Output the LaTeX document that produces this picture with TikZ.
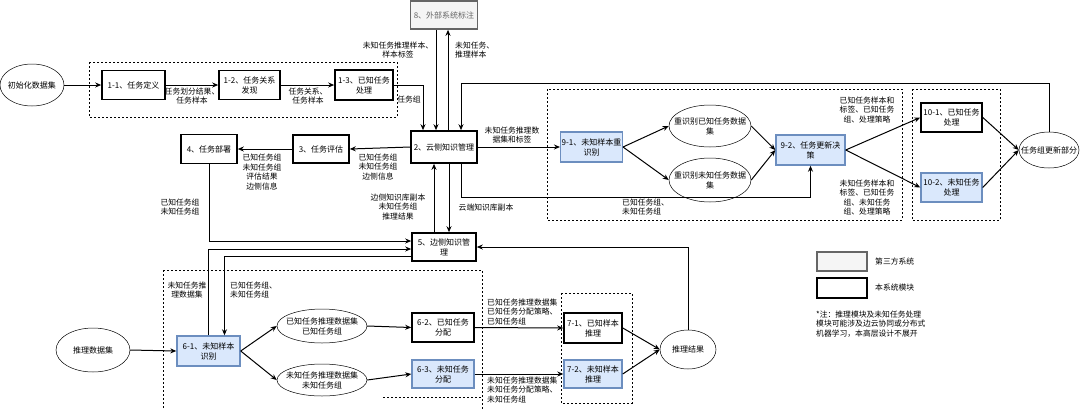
\documentclass[tikz,border=0pt]{standalone}
\usepackage{fontspec}
\setmainfont{Noto Sans CJK SC}
\usetikzlibrary{shapes.geometric,arrows.meta}
\definecolor{unkfill}{HTML}{DAE8FC}
\definecolor{unkline}{HTML}{6C8EBF}
\definecolor{extfill}{HTML}{F5F5F5}
\definecolor{extline}{HTML}{666666}
\tikzset{
  sysbox/.style={draw=black, line width=1.6pt, fill=white, align=center, inner sep=1pt, font=\fontsize{8}{10}\selectfont},
  unkbox/.style={sysbox, draw=unkline, fill=unkfill, line width=1.4pt},
  extbox/.style={sysbox, draw=extline, fill=extfill, text=extline},
  dataell/.style={draw, ellipse, line width=0.5pt, inner sep=0pt},
  lbl/.style={align=center, inner sep=0pt, font=\fontsize{7.8}{9.5}\selectfont},
  grp/.style={draw, line width=0.8pt, dash pattern=on 2pt off 2pt},
  arr/.style={line width=1pt, -{Stealth[length=6pt,width=5pt]}},
}
\begin{document}
\begin{tikzpicture}[x=1pt,y=-1pt]
\useasboundingbox (0,0) rectangle (1080,408);

%dashed groups
\draw[grp] (89,62) rectangle (397,117); %1
\draw[grp] (547,89) rectangle (902,220); %9
\draw[grp] (912,89) rectangle (1000,220); %10
\draw[grp] (163,270) rectangle (482,412); %6
\draw[grp] (383,397) -- (482,397);
\draw[grp] (561,293) rectangle (632,403); %7

%top row
\node[dataell, minimum width=64pt, minimum height=42pt, label={[lbl, font=\fontsize{8}{10}\selectfont]center:初始化数据集}] (init) at (32,85) {};
\node[sysbox, minimum width=63pt, minimum height=29pt] (n11) at (133.5,85) {1-1、任务定义};
\node[sysbox, minimum width=61pt, minimum height=29pt] (n12) at (249.5,85) {1-2、任务关系\\发现};
\node[sysbox, minimum width=58pt, minimum height=30pt] (n13) at (364,85) {1-3、已知任务\\处理};
\node[extbox, minimum width=67pt, minimum height=28pt] (n8) at (444,15) {8、外部系统标注};

%middle row
\node[sysbox, minimum width=66pt, minimum height=32pt] (n2) at (444,147) {2、云侧知识管理};
\node[sysbox, minimum width=56pt, minimum height=28pt] (n3) at (321,149) {3、任务评估};
\node[sysbox, minimum width=56pt, minimum height=29pt] (n4) at (209,149) {4、任务部署};
\node[sysbox, minimum width=64pt, minimum height=28pt] (n5) at (444,247) {5、边侧知识管\\理};

\node[unkbox, minimum width=61pt, minimum height=30pt] (n91) at (591.5,147) {9-1、未知样本重\\识别};
\node[dataell, minimum width=82pt, minimum height=42pt, label={[lbl, font=\fontsize{8}{10}\selectfont]center:重识别已知任务数据\\集}] (e91a) at (710,126) {};
\node[dataell, minimum width=82pt, minimum height=44pt, label={[lbl, font=\fontsize{8}{10}\selectfont]center:重识别未知任务数据\\集}] (e91b) at (710,180) {};
\node[unkbox, minimum width=69pt, minimum height=30pt] (n92) at (810.5,150) {9-2、任务更新决\\策};
\node[sysbox, minimum width=61pt, minimum height=29pt] (n101) at (951.5,117.5) {10-1、已知任务\\处理};
\node[unkbox, minimum width=61pt, minimum height=29pt] (n102) at (951.5,187.5) {10-2、未知任务\\处理};
\node[dataell, minimum width=60pt, minimum height=36pt, label={[lbl, font=\fontsize{8}{10}\selectfont]center:任务组更新部分}] (eupd) at (1049,150) {};

%bottom row
\node[dataell, minimum width=74pt, minimum height=44pt, label={[lbl, font=\fontsize{8}{10}\selectfont]center:推理数据集}] (einf) at (93,350) {};
\node[unkbox, minimum width=63pt, minimum height=30pt] (n61) at (208.5,351) {6-1、未知样本\\识别};
\node[dataell, minimum width=90pt, minimum height=34pt, label={[lbl, font=\fontsize{8}{10}\selectfont]center:已知任务推理数据集\\已知任务组}] (e6a) at (322,326) {};
\node[dataell, minimum width=90pt, minimum height=32pt, label={[lbl, font=\fontsize{8}{10}\selectfont]center:未知任务推理数据集\\未知任务组}] (e6b) at (322,380) {};
\node[sysbox, minimum width=62pt, minimum height=29pt] (n62) at (443,327.5) {6-2、已知任务\\分配};
\node[unkbox, minimum width=62pt, minimum height=28pt] (n63) at (443,374) {6-3、未知任务\\分配};
\node[sysbox, minimum width=58pt, minimum height=30pt] (n71) at (593,328) {7-1、已知样本\\推理};
\node[unkbox, minimum width=58pt, minimum height=28pt] (n72) at (593,374) {7-2、未知样本\\推理};
\node[dataell, minimum width=56pt, minimum height=39pt, label={[lbl, font=\fontsize{8}{10}\selectfont]center:推理结果}] (eres) at (688,349.5) {};

%connectors, top
\draw[arr] (init.east) -- (n11.west);
\draw[arr] (n11.east) -- (n12.west);
\draw[arr] (n12.east) -- (n13.west);
\draw[arr] (n13.east) -| ([xshift=-21pt]n2.north);
\draw[arr] ([xshift=-8pt]n8.south) -- ([xshift=-8pt]n2.north);
\draw[arr] ([xshift=4pt]n2.north) -- ([xshift=4pt]n8.south);
\draw[arr] (eupd.north) -- ++(0,-48) -| ([xshift=17pt]n2.north);

%connectors, middle
\draw[arr] (n2.east) -- (n91.west);
\draw[arr] ([xshift=17pt]n2.south) -- ++(0,34) -| (n92.south);
\draw[arr] (n91.east) -- (e91a.west);
\draw[arr] (n91.east) -- (e91b.west);
\draw[arr] (e91a.east) -- (n92.west);
\draw[arr] (e91b.east) -- (n92.west);
\draw[arr] (n92.east) -- (n101.west);
\draw[arr] (n92.east) -- (n102.west);
\draw[arr] (n101.east) -- (eupd.west);
\draw[arr] (n102.east) -- (eupd.west);
\draw[arr] (n2.west) -- (n3.east);
\draw[arr] (n3.west) -- (n4.east);
\draw[arr] (n4.south) |- ([yshift=6pt]n5.west);
\draw[arr] ([xshift=-10pt]n5.north) -- ([xshift=-10pt]n2.south);
\draw[arr] ([xshift=5pt]n2.south) -- ([xshift=5pt]n5.north);

%connectors, bottom
\draw[arr] (n61.north) |- ([yshift=-2pt]n5.west);
\draw[arr] ([yshift=-9pt]n5.west) -| ([xshift=16pt]n61.north);
\draw[arr] (eres.north) |- (n5.east);
\draw[arr] (einf.east) -- (n61.west);
\draw[arr] (n61.east) -- (e6a.west);
\draw[arr] (n61.east) -- (e6b.west);
\draw[arr] (e6a.east) -- (n62.west);
\draw[arr] (e6b.east) -- (n63.west);
\draw[arr] (n62.east) -- (n71.west);
\draw[arr] (n63.east) -- (n72.west);
\draw[arr] (n71.east) -- (eres.west);
\draw[arr] (n72.east) -- (eres.west);

%labels
\node[lbl] (l112) at (192,96) {任务划分结果、\\任务样本};
\node[lbl] (l123) at (308,96) {任务关系、\\任务样本};
\node[lbl] (l132) at (409,100) {任务组};
\node[lbl] (l82) at (398,50) {未知任务推理样本、\\样本标签};
\node[lbl, align=left, anchor=west] (l28) at (455,50) {未知任务、\\推理样本};
\node[lbl] (l291) at (512,135) {未知任务推理数\\据集和标签};
\node[lbl, align=left, anchor=west] (l292) at (622,207) {已知任务组、\\未知任务组};
\node[lbl] (l101) at (867,110) {已知任务样本和\\标签、已知任务\\组、处理策略};
\node[lbl] (l102) at (867,197.5) {未知任务样本和\\标签、已知任务\\组、未知任务\\组、处理策略};
\node[lbl] (l23) at (378,167) {已知任务组\\未知任务组\\边侧信息};
\node[lbl] (l34) at (262,172) {已知任务组\\未知任务组\\评估结果\\边侧信息};
\node[lbl] (l45) at (180,207) {已知任务组\\未知任务组};
\node[lbl] (l52) at (398,207) {边侧知识库副本\\未知任务组\\推理结果};
\node[lbl] (l25) at (486,208) {云端知识库副本};
\node[lbl] (l615) at (187,290) {未知任务推\\理数据集};
\node[lbl, align=left, anchor=west] (l561) at (230,290) {已知任务组、\\未知任务组};
\node[lbl, align=left, anchor=west] (l671) at (487,312) {已知任务推理数据集\\已知任务分配策略、\\已知任务组};
\node[lbl, align=left, anchor=west] (l672) at (487,390) {未知任务推理数据集\\未知任务分配策略、\\未知任务组};

%legend
\node[extbox, minimum width=50pt, minimum height=19pt] (lgext) at (842,261.5) {};
\node[sysbox, minimum width=50pt, minimum height=20pt] (lgsys) at (842,288) {};
\node[lbl, anchor=west] (lgextt) at (875,262) {第三方系统};
\node[lbl, anchor=west] (lgsyst) at (875,288) {本系统模块};
\node[lbl, align=left, anchor=west] (note) at (816,324) {*注：推理模块及未知任务处理\\模块可能涉及边云协同或分布式\\机器学习，本高层设计不展开};
\end{tikzpicture}
\end{document}
